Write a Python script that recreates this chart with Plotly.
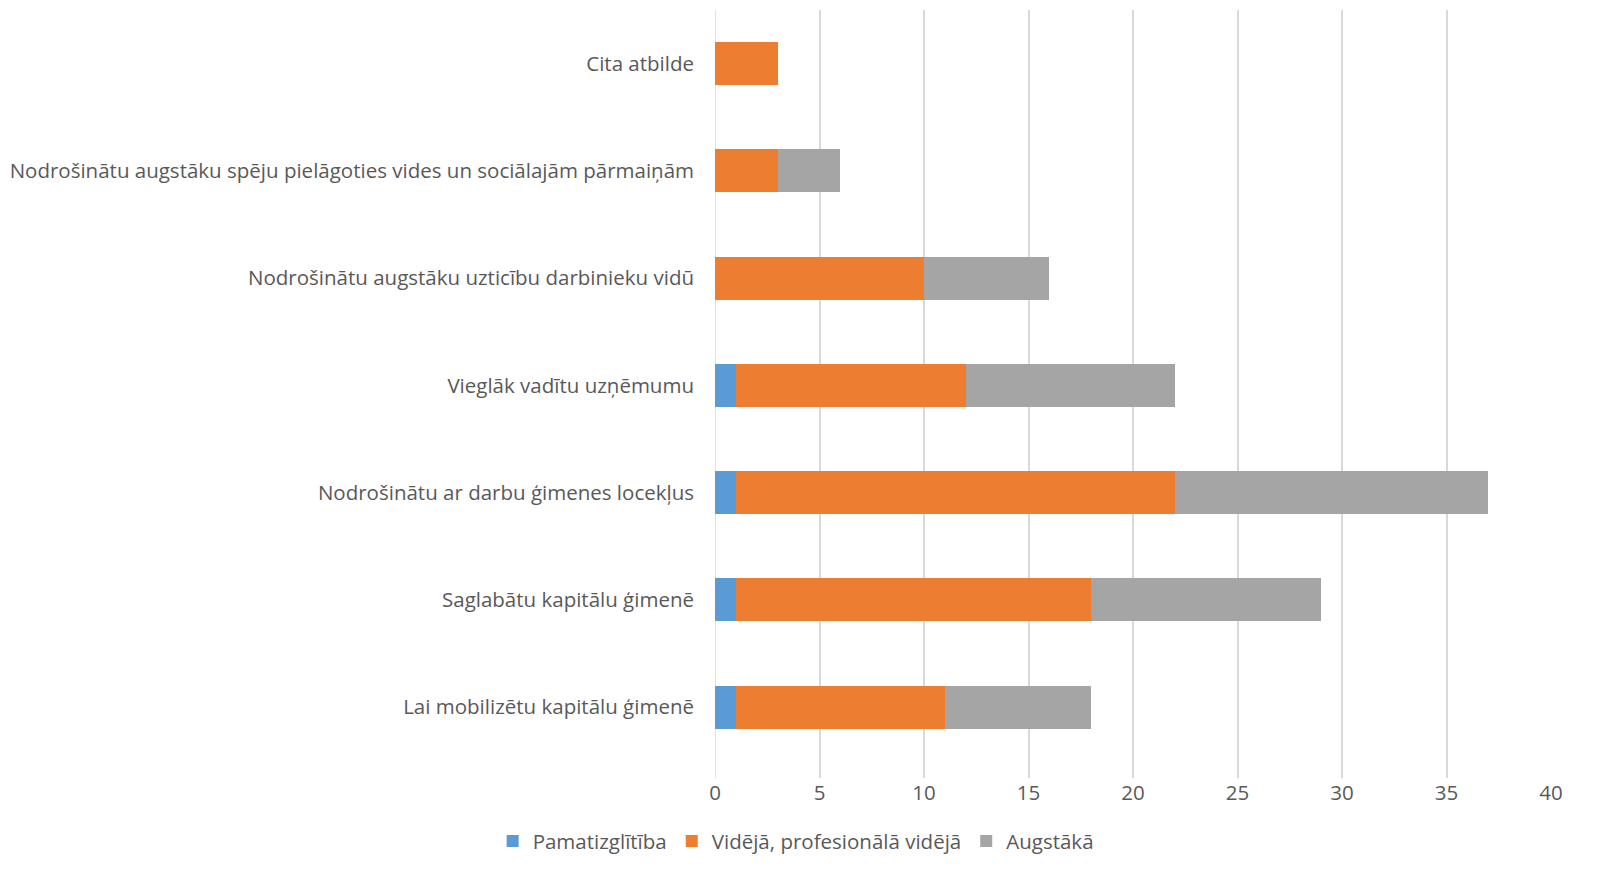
import plotly.graph_objects as go

categories = [
    "Lai mobilizētu kapitālu ģimenē",
    "Saglabātu kapitālu ģimenē",
    "Nodrošinātu ar darbu ģimenes locekļus",
    "Vieglāk vadītu uzņēmumu",
    "Nodrošinātu augstāku uzticību darbinieku vidū",
    "Nodrošinātu augstāku spēju pielāgoties vides un sociālajām pārmaiņām",
    "Cita atbilde",
]
pamatizglitiba = [1, 1, 1, 1, 0, 0, 0]
videja = [10, 17, 21, 11, 10, 3, 3]
augstaka = [7, 11, 15, 10, 6, 3, 0]
series_names = ["Pamatizglītība", "Vidējā, profesionālā vidējā", "Augstākā"]
x_ticks = [0, 5, 10, 15, 20, 25, 30, 35, 40]

colors = ["#5B9BD5", "#ED7D31", "#A5A5A5"]
font_family = "'Open Sans', Lato, sans-serif"
fs = 20.5

fig = go.Figure()
for name, vals, col in zip(series_names, [pamatizglitiba, videja, augstaka], colors):
    fig.add_trace(go.Bar(
        y=categories, x=vals, name=name, orientation="h",
        marker=dict(color=col, line=dict(width=0)), width=0.4,
    ))

fig.update_layout(
    barmode="stack",
    width=1588, height=859,
    margin=dict(l=703, r=45, t=2, b=89),
    plot_bgcolor="white", paper_bgcolor="white",
    font=dict(family=font_family, size=fs, color="#595959"),
    xaxis=dict(range=[0, 40], tickvals=x_ticks, showgrid=True, gridcolor="#D9D9D9",
               gridwidth=1.5, zeroline=False, showline=False, ticks="",
               tickfont=dict(size=fs, color="#595959"), fixedrange=True),
    yaxis=dict(range=[-0.66, 6.5], showgrid=False, zeroline=False, showline=False,
               ticks="", ticklabelstandoff=20,
               tickfont=dict(size=fs, color="#595959"), fixedrange=True),
    legend=dict(orientation="h", xref="container", yref="container",
                x=0.496, y=0.03, xanchor="center", yanchor="middle",
                font=dict(size=fs, color="#595959"), traceorder="normal",
                itemwidth=30),
    showlegend=True,
)
fig.add_shape(type="line", xref="x", yref="paper", x0=0, x1=0, y0=0, y1=1,
              line=dict(color="#D9D9D9", width=1.5), layer="below")

fig.write_html("out.html")
